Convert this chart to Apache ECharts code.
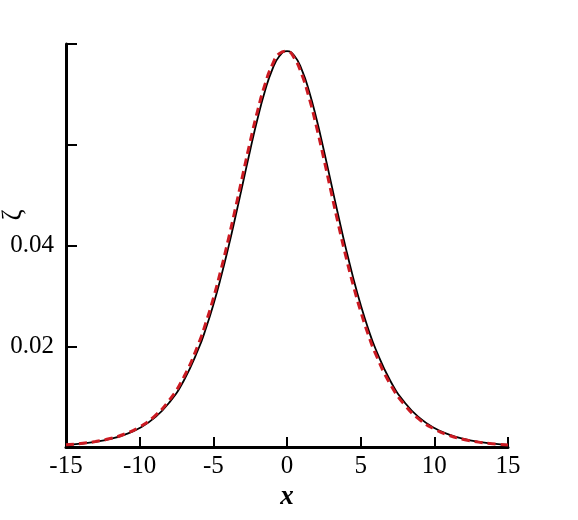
<!DOCTYPE html>
<html>
<head>
<meta charset="utf-8">
<script src="https://cdn.jsdelivr.net/npm/echarts@6/dist/echarts.min.js"></script>
<style>
  html, body { margin: 0; padding: 0; background: #fff; }
  #chart { width: 578px; height: 520px; }
</style>
</head>
<body>
<div id="chart"></div>
<script>
// x positions
const xs = [-15, -14, -13, -12, -11, -10, -9, -8, -7,
  -6, -5.5, -5, -4.5, -4, -3.5, -3, -2.5, -2, -1.5, -1, -0.5, 0,
  0.5, 1, 1.5, 2, 2.5, 3, 3.5, 4, 4.5, 5, 5.5, 6,
  7, 8, 9, 10, 11, 12, 13, 14, 15];

// black solid curve
const zetaSolid = [0.00043, 0.00066, 0.00102, 0.00159, 0.00245, 0.00377, 0.00577, 0.00878, 0.01321,
  0.01955, 0.02358, 0.02823, 0.03352, 0.03938, 0.04570, 0.05231, 0.05891, 0.06515, 0.07063, 0.07492, 0.07766, 0.07860,
  0.07766, 0.07492, 0.07063, 0.06515, 0.05891, 0.05231, 0.04570, 0.03938, 0.03352, 0.02823, 0.02358, 0.01955,
  0.01321, 0.00878, 0.00577, 0.00377, 0.00245, 0.00159, 0.00102, 0.00066, 0.00043];

// red dashed curve (slightly to the left)
const zetaDashed = [0.00045, 0.00070, 0.00108, 0.00168, 0.00259, 0.00398, 0.00609, 0.00925, 0.01390,
  0.02052, 0.02471, 0.02952, 0.03497, 0.04097, 0.04739, 0.05404, 0.06060, 0.06669, 0.07192, 0.07585, 0.07815, 0.07855,
  0.07717, 0.07399, 0.06934, 0.06361, 0.05722, 0.05058, 0.04401, 0.03779, 0.03207, 0.02694, 0.02245, 0.01858,
  0.01252, 0.00831, 0.00545, 0.00356, 0.00231, 0.00150, 0.00097, 0.00062, 0.00040];

const yLabelTicks = [0.02, 0.04];

const fontFamily = 'Liberation Serif';

const myChart = echarts.init(document.getElementById('chart'));

const option = {
  animation: false,
  backgroundColor: '#fff',
  grid: { left: 66, right: 70, top: 44, bottom: 73 },
  xAxis: {
    type: 'value',
    min: -15,
    max: 15,
    interval: 5,
    name: 'x',
    nameLocation: 'middle',
    nameGap: 32,
    nameTextStyle: { fontFamily: fontFamily, fontSize: 27, fontStyle: 'italic', fontWeight: 'bold', color: '#000' },
    axisLine: { show: true, onZero: false, lineStyle: { color: '#000', width: 3 } },
    axisTick: { show: true, inside: true, length: 10, lineStyle: { color: '#000', width: 2 } },
    axisLabel: { fontFamily: fontFamily, fontSize: 25, color: '#000', margin: 7 },
    splitLine: { show: false },
  },
  yAxis: {
    type: 'value',
    min: 0,
    max: 0.08,
    interval: 0.02,
    axisLine: { show: true, onZero: false, lineStyle: { color: '#000', width: 3 } },
    axisTick: { show: true, inside: true, length: 11, lineStyle: { color: '#000', width: 2 } },
    axisLabel: {
      fontFamily: fontFamily,
      fontSize: 25,
      color: '#000',
      margin: 12,
      formatter: (v) => {
        const hit = yLabelTicks.find((t) => Math.abs(t - v) < 1e-9);
        return hit !== undefined ? hit.toFixed(2) : '';
      },
    },
    splitLine: { show: false },
  },
  graphic: [
    {
      type: 'text',
      x: 14,
      y: 215,
      rotation: Math.PI / 2,
      style: {
        text: 'ζ',
        font: '27px "Liberation Serif"',
        fill: '#000',
        align: 'center',
        verticalAlign: 'middle',
      },
    },
  ],
  series: [
    {
      type: 'line',
      smooth: true,
      showSymbol: false,
      lineStyle: { color: '#000', width: 1.8 },
      data: xs.map((x, i) => [x, zetaSolid[i]]),
      z: 2,
    },
    {
      type: 'line',
      smooth: true,
      showSymbol: false,
      lineStyle: { color: '#cc1a22', width: 3, type: [8, 5] },
      data: xs.map((x, i) => [x, zetaDashed[i]]),
      z: 3,
    },
  ],
};

myChart.setOption(option);
</script>
</body>
</html>
